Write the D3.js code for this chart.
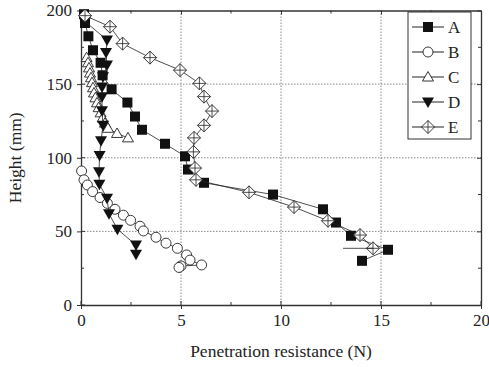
<!DOCTYPE html>
<meta charset="utf-8">
<script src="https://d3js.org/d3.v7.min.js"></script>
<style>
  body { margin: 0; background: #fff; }
  text { font-family: "Liberation Serif", "Times New Roman", serif; fill: #222; }
</style>
<div id="chart"></div>
<script>
// data: [resistance (N), height (mm)]
var seriesA = [[0.15,197.5],[0.2,191.5],[0.37,182.5],[0.6,173],[0.98,164.5],[1.08,156],[1.53,146.5],[2.32,137.5],[2.7,128],[3.05,119],[4.2,109.5],[5.2,101],[5.35,92],[6.15,83],[9.6,75],[12.1,65],[12.75,56],[13.5,47],[15.35,37.5],[14.05,30]];
var seriesB = [[0.03,91],[0.15,85],[0.32,81.5],[0.58,77],[0.95,73],[1.32,69],[1.7,65],[2.12,61],[2.48,57.5],[2.95,53.5],[3.12,50.3],[3.75,46],[4.25,42],[4.82,38.5],[5.28,34],[5.45,30.5],[6.03,27.2],[5.0,26.5],[4.9,25.5]];
var seriesC = [[0.28,168],[0.35,164.5],[0.4,161],[0.45,157.5],[0.5,154.3],[0.55,151],[0.6,147.5],[0.65,144],[0.72,140.7],[0.8,137.3],[0.88,134],[0.98,130.5],[1.08,127],[1.2,123.5],[1.35,120],[1.8,116.5],[2.35,113.5]];
var seriesD = [[0.2,192.5],[1.3,180],[1.25,171.5],[1.3,163],[1.1,155],[1.05,148],[1.05,141.5],[1.05,132],[1.1,122],[1.0,111.5],[0.93,101.5],[0.9,90.5],[0.92,82],[1.3,72.5],[1.4,62],[1.82,51.5],[2.75,40.7],[2.75,34.5]];
var seriesE = [[0.2,196.5],[1.45,189],[2.08,177.5],[3.45,168],[4.95,159.5],[5.92,150.5],[6.15,141.5],[6.55,131.7],[6.15,122],[5.65,113.5],[5.62,104],[5.7,93],[5.75,85],[8.4,76.5],[10.65,66.5],[12.35,57.2],[13.95,47.5],[14.6,38.5]];

var names = ["A","B","C","D","E"];
var seriesData = [seriesA, seriesB, seriesC, seriesD, seriesE];
var xTicks = [0,5,10,15,20];
var yTicks = [0,50,100,150,200];

var margin = {top: 10.5, right: 8, bottom: 62, left: 81},
    width = 489 - margin.left - margin.right,
    height = 367 - margin.top - margin.bottom;

var svg = d3.select("#chart").append("svg")
    .attr("width", 489).attr("height", 367)
  .append("g")
    .attr("transform", "translate(" + margin.left + "," + margin.top + ")");

var x = d3.scaleLinear().domain([0, 20]).range([0, width]);
var y = d3.scaleLinear().domain([0, 200]).range([height, 0]);

// dotted grid
svg.selectAll(".gx").data([5,10,15]).enter().append("line")
    .attr("x1", d => x(d)).attr("x2", d => x(d)).attr("y1", 0).attr("y2", height)
    .attr("stroke", "#888").attr("stroke-dasharray", "1.5,1.5").attr("stroke-width", 1);
svg.selectAll(".gy").data([50,100,150]).enter().append("line")
    .attr("y1", d => y(d)).attr("y2", d => y(d)).attr("x1", 0).attr("x2", width)
    .attr("stroke", "#888").attr("stroke-dasharray", "1.5,1.5").attr("stroke-width", 1);

// axes
var xMinor = d3.range(2.5, 20, 5);
var yMinor = d3.range(25, 200, 50);

function styleAxis(g) {
  g.select(".domain").attr("stroke", "#333").attr("stroke-width", 1.3);
  g.selectAll(".tick line").attr("stroke", "#333").attr("stroke-width", 1);
  g.selectAll("text").style("font-size", "17px").attr("font-family", "Liberation Serif");
}

svg.append("g").attr("transform", "translate(0," + height + ")")
  .call(d3.axisBottom(x).tickValues(xTicks).tickSizeInner(4).tickSizeOuter(0).tickPadding(5))
  .call(styleAxis);
svg.append("g")
  .call(d3.axisLeft(y).tickValues(yTicks).tickSizeInner(4).tickSizeOuter(0).tickPadding(5))
  .call(styleAxis);
svg.append("g").attr("transform", "translate(0,0)")
  .call(d3.axisTop(x).tickValues(xTicks).tickSizeInner(-4).tickSizeOuter(0).tickFormat(""))
  .call(styleAxis);
svg.append("g").attr("transform", "translate(" + width + ",0)")
  .call(d3.axisRight(y).tickValues(yTicks).tickSizeInner(-4).tickSizeOuter(0).tickFormat(""))
  .call(styleAxis);

// inward ticks on bottom/left and minor ticks
svg.selectAll(".bt").data(xTicks.concat(xMinor)).enter().append("line")
  .attr("x1", d => x(d)).attr("x2", d => x(d)).attr("y1", height).attr("y2", d => height - (xTicks.includes(d) ? 4 : 3))
  .attr("stroke", "#333");
svg.selectAll(".tt").data(xMinor).enter().append("line")
  .attr("x1", d => x(d)).attr("x2", d => x(d)).attr("y1", 0).attr("y2", 3).attr("stroke", "#333");
svg.selectAll(".lt").data(yTicks.concat(yMinor)).enter().append("line")
  .attr("y1", d => y(d)).attr("y2", d => y(d)).attr("x1", 0).attr("x2", d => (yTicks.includes(d) ? 4 : 3))
  .attr("stroke", "#333");
svg.selectAll(".rt").data(yMinor).enter().append("line")
  .attr("y1", d => y(d)).attr("y2", d => y(d)).attr("x1", width).attr("x2", width - 3).attr("stroke", "#333");

// axis titles
svg.append("text").attr("x", width / 2).attr("y", height + 52)
  .attr("text-anchor", "middle").style("font-size", "17.5px").text("Penetration resistance (N)");
svg.append("text").attr("transform", "translate(-60," + (height / 2) + ")rotate(-90)")
  .attr("text-anchor", "middle").style("font-size", "17.5px").text("Height (mm)");

// marker drawing
function drawMarker(g, name, cx, cy) {
  if (name === "A") {
    g.append("rect").attr("x", cx - 5).attr("y", cy - 5).attr("width", 10).attr("height", 10)
      .attr("fill", "#111");
  } else if (name === "B") {
    g.append("circle").attr("cx", cx).attr("cy", cy).attr("r", 5)
      .attr("fill", "#fff").attr("stroke", "#222").attr("stroke-width", 0.9);
  } else if (name === "C") {
    g.append("path").attr("d", "M" + cx + "," + (cy - 5.5) + "L" + (cx + 5.5) + "," + (cy + 4) + "L" + (cx - 5.5) + "," + (cy + 4) + "Z")
      .attr("fill", "#fff").attr("stroke", "#222").attr("stroke-width", 0.9);
  } else if (name === "D") {
    g.append("path").attr("d", "M" + (cx - 6) + "," + (cy - 4.5) + "L" + (cx + 6) + "," + (cy - 4.5) + "L" + cx + "," + (cy + 6) + "Z")
      .attr("fill", "#111");
  } else {
    g.append("path").attr("d", "M" + cx + "," + (cy - 6.5) + "L" + (cx + 6.5) + "," + cy + "L" + cx + "," + (cy + 6.5) + "L" + (cx - 6.5) + "," + cy + "Z")
      .attr("fill", "#fff").attr("stroke", "#222").attr("stroke-width", 0.9);
    g.append("path").attr("d", "M" + cx + "," + (cy - 6.5) + "V" + (cy + 6.5) + "M" + (cx - 6.5) + "," + cy + "H" + (cx + 6.5))
      .attr("stroke", "#222").attr("stroke-width", 0.8);
  }
}

var line = d3.line().x(d => x(d[0])).y(d => y(d[1]));

seriesData.forEach(function(data, i) {
  var g = svg.append("g");
  g.append("path").datum(data).attr("d", line)
    .attr("fill", "none").attr("stroke", "#222").attr("stroke-width", 0.8);
  data.forEach(function(d) { drawMarker(g, names[i], x(d[0]), y(d[1])); });
});

// short stray segment next to the last E point
svg.append("line").attr("x1", x(13.1)).attr("x2", x(14.6)).attr("y1", y(38.5)).attr("y2", y(38.5))
  .attr("stroke", "#222").attr("stroke-width", 0.8);

// legend
var legend = svg.append("g").attr("transform", "translate(" + (408 - margin.left) + "," + (12 - margin.top) + ")");
legend.append("rect").attr("width", 63).attr("height", 127)
  .attr("fill", "#fff").attr("stroke", "#333").attr("stroke-width", 1);
names.forEach(function(n, i) {
  var ly = 15 + i * 25;
  legend.append("line").attr("x1", 4).attr("x2", 36).attr("y1", ly).attr("y2", ly)
    .attr("stroke", "#222").attr("stroke-width", 1);
  drawMarker(legend, n, 20, ly);
  legend.append("text").attr("x", 40).attr("y", ly + 6).style("font-size", "17px").text(n);
});
</script>
